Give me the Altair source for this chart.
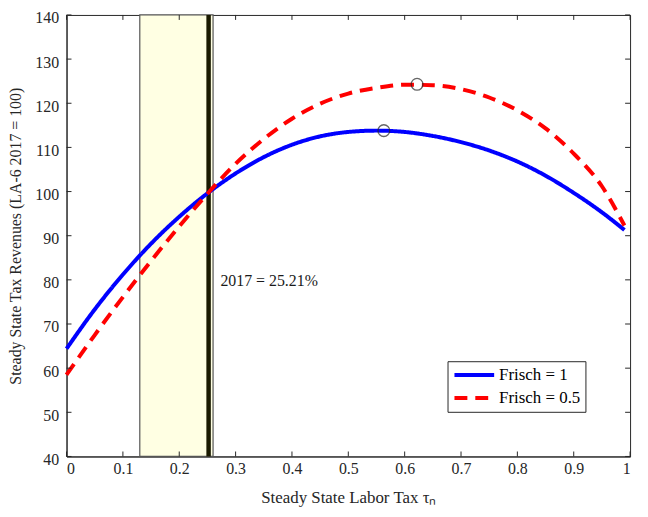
import pandas as pd
import altair as alt

# values
TAX = [0.0, 0.05, 0.10, 0.15, 0.20, 0.25, 0.30, 0.35, 0.40, 0.45, 0.50,
       0.55, 0.60, 0.65, 0.70, 0.75, 0.80, 0.85, 0.90, 0.95, 0.99]
REV_FRISCH_1 = [64.4, 73.3, 81.2, 88.2, 94.3, 99.6, 104.1, 107.8, 110.6, 112.5, 113.5,
                113.8, 113.5, 112.6, 111.2, 109.3, 106.8, 103.6, 99.7, 95.3, 91.3]
REV_FRISCH_05 = [58.5, 67.5, 76.1, 84.3, 92.1, 99.5, 106.3, 111.9, 116.5, 119.9, 122.2,
                 123.5, 124.2, 124.1, 123.2, 121.3, 118.4, 114.3, 108.6, 101.2, 92.3]
SERIES = ["Frisch = 1", "Frisch = 0.5"]

PEAK_TAX = [0.563, 0.622]
PEAK_REV = [113.8, 124.3]

BAND = [0.13, 0.26]
TAX_2017 = 0.2521
LABEL_2017 = "2017 = 25.21%"

X_TICKS = [0, 0.1, 0.2, 0.3, 0.4, 0.5, 0.6, 0.7, 0.8, 0.9, 1]
Y_TICKS = [40, 50, 60, 70, 80, 90, 100, 110, 120, 130, 140]

FONT = "Liberation Serif"
AXIS_COLOR = "#262626"
PLOT_WIDTH = 568
PLOT_HEIGHT = 445

df = pd.concat([
    pd.DataFrame({"tax": TAX, "rev": REV_FRISCH_1, "series": SERIES[0]}),
    pd.DataFrame({"tax": TAX, "rev": REV_FRISCH_05, "series": SERIES[1]}),
])
df_peak = pd.DataFrame({"tax": PEAK_TAX, "rev": PEAK_REV})
df_band = pd.DataFrame({"x0": [BAND[0]], "x1": [BAND[1]], "y0": [Y_TICKS[0]], "y1": [Y_TICKS[-1]]})
df_2017 = pd.DataFrame({"x": [TAX_2017], "y0": [Y_TICKS[0]], "y1": [Y_TICKS[-1]]})
df_label = pd.DataFrame({"x": [0.273], "y": [79.7], "text": [LABEL_2017]})
df_xt = pd.DataFrame({"v": X_TICKS})
df_yt = pd.DataFrame({"v": Y_TICKS})

x_scale = alt.Scale(domain=[0, 1], nice=False, zero=False)
y_scale = alt.Scale(domain=[40, 140], nice=False, zero=False)

x_enc = alt.X("tax:Q", scale=x_scale).axis(
    values=X_TICKS, format="~g", ticks=False, grid=False,
    title="Steady State Labor Tax τₙ", titleFontSize=17, titlePadding=13,
    labelPadding=4,
)
y_enc = alt.Y("rev:Q", scale=y_scale).axis(
    values=Y_TICKS, ticks=False, grid=False,
    title="Steady State Tax Revenues (LA-6 2017 = 100)", titleFontSize=16,
    titlePadding=11, labelPadding=8, labelOffset=3,
)

legend_opts = dict(
    title=None, orient="none", legendX=384, legendY=349,
    labelFont=FONT, labelFontSize=17, labelColor="#000000",
)

band = alt.Chart(df_band).mark_rect(fill="#FFFFE3", stroke="#555555", strokeWidth=1.2).encode(
    x=alt.X("x0:Q", scale=x_scale), x2="x1:Q",
    y=alt.Y("y0:Q", scale=y_scale), y2="y1:Q",
)

line_2017 = alt.Chart(df_2017).mark_rule(color="#1a1a00", strokeWidth=4.5).encode(
    x=alt.X("x:Q", scale=x_scale), y=alt.Y("y0:Q", scale=y_scale), y2="y1:Q",
)

curves = alt.Chart(df).mark_line(strokeWidth=4, interpolate="monotone").encode(
    x=x_enc,
    y=y_enc,
    color=alt.Color("series:N", scale=alt.Scale(domain=SERIES, range=["#0000FF", "#FF0000"])).legend(**legend_opts),
    strokeDash=alt.StrokeDash("series:N", scale=alt.Scale(domain=SERIES, range=[[1, 0], [13, 8]])).legend(**legend_opts),
    order=alt.Order("tax:Q"),
)

peaks = alt.Chart(df_peak).mark_point(shape="circle", filled=False, size=140, color=AXIS_COLOR, strokeWidth=1.3).encode(
    x=alt.X("tax:Q", scale=x_scale), y=alt.Y("rev:Q", scale=y_scale),
)

label = alt.Chart(df_label).mark_text(align="left", baseline="middle", fontSize=16, font=FONT, color="#1a1a1a").encode(
    x=alt.X("x:Q", scale=x_scale), y=alt.Y("y:Q", scale=y_scale), text="text:N",
)

# MATLAB style inward ticks on all four sides
tick_style = dict(color=AXIS_COLOR, strokeWidth=1)
x_bottom = alt.Chart(df_xt).mark_rule(**tick_style).encode(
    x=alt.X("v:Q", scale=x_scale), y=alt.value(PLOT_HEIGHT), y2=alt.value(PLOT_HEIGHT - 5))
x_top = alt.Chart(df_xt).mark_rule(**tick_style).encode(
    x=alt.X("v:Q", scale=x_scale), y=alt.value(0), y2=alt.value(5))
y_left = alt.Chart(df_yt).mark_rule(**tick_style).encode(
    y=alt.Y("v:Q", scale=y_scale), x=alt.value(0), x2=alt.value(5))
y_right = alt.Chart(df_yt).mark_rule(**tick_style).encode(
    y=alt.Y("v:Q", scale=y_scale), x=alt.value(PLOT_WIDTH), x2=alt.value(PLOT_WIDTH - 5))

chart = (
    alt.layer(band, line_2017, curves, peaks, label, x_bottom, x_top, y_left, y_right)
    .properties(
        width=PLOT_WIDTH, height=PLOT_HEIGHT,
        autosize=alt.AutoSizeParams(type="none"),
        padding={"left": 59, "top": 5, "right": 10, "bottom": 58},
    )
    .configure(font=FONT)
    .configure_view(stroke=AXIS_COLOR, strokeWidth=1)
    .configure_axis(
        domainColor=AXIS_COLOR, labelColor=AXIS_COLOR, titleColor=AXIS_COLOR,
        labelFont=FONT, titleFont=FONT, labelFontSize=16, titleFontWeight="normal",
    )
    .configure_legend(
        labelFont=FONT, labelFontSize=17,
        symbolType="stroke", symbolSize=1600, symbolStrokeWidth=4, clipHeight=18,
        strokeColor=AXIS_COLOR, fillColor="#FFFFFF", padding=5, rowPadding=5,
        labelOffset=3,
    )
)

chart.save("out.html", embed_options={"renderer": "svg", "actions": False})
